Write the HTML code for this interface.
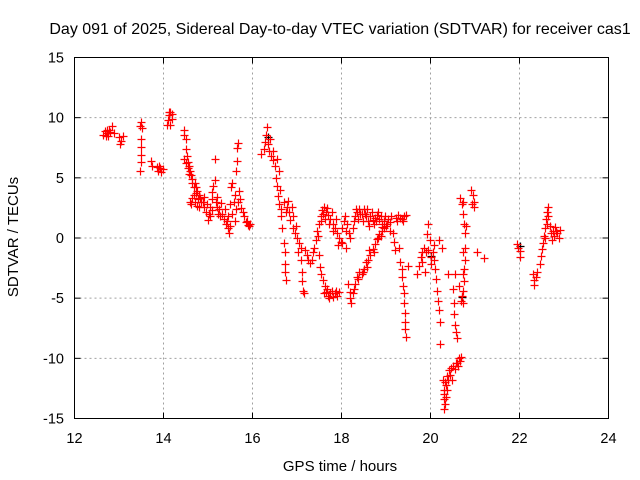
<!DOCTYPE html>
<html><head><meta charset="utf-8"><style>
body{margin:0;background:#fff;}
svg{display:block;font-family:"Liberation Sans",sans-serif;}
</style></head><body>
<svg id="chart" width="640" height="480" viewBox="0 0 640 480" xmlns="http://www.w3.org/2000/svg">
<text x="340" y="34" font-size="16" text-anchor="middle">Day 091 of 2025, Sidereal Day-to-day VTEC variation (SDTVAR) for receiver cas1</text>
<text transform="translate(18,237) rotate(-90)" font-size="15" text-anchor="middle">SDTVAR / TECUs</text>
<text x="340" y="471" font-size="15" text-anchor="middle">GPS time / hours</text>
<g id="grid"></g>
<g id="ticks"></g>
<g id="black-series"></g>
<g id="red-series"></g>
<rect x="74.5" y="57.5" width="534" height="361" fill="none" stroke="#000" stroke-width="1"/>
</svg>
<script>
const xTicks=[12,14,16,18,20,22,24];
const yTicks=[-15,-10,-5,0,5,10,15];
const redPoints=[
[12.65,8.6],[12.68,8.9],[12.72,8.7],[12.75,8.5],[12.78,9.0],[12.8,8.8],[12.85,9.3],[12.88,8.7],[12.7,8.5],[12.74,9.0],
[13.0,8.4],[13.02,7.8],[13.05,8.1],[13.08,8.5],
[13.48,9.3],[13.5,9.6],[13.52,9.1],[13.5,8.2],[13.49,7.6],[13.5,6.9],[13.5,6.3],[13.48,5.6],
[13.72,6.4],[13.75,6.0],[13.85,5.9],[13.88,5.6],[13.92,5.8],[13.95,5.5],[13.98,5.7],[13.9,6.0],
[14.08,9.4],[14.1,9.8],[14.12,10.2],[14.15,10.5],[14.18,10.3],[14.2,9.9],[14.15,9.4],[14.12,10.5],
[14.45,8.6],[14.47,9.0],[14.5,8.2],[14.5,7.4],[14.45,6.6],[14.52,6.8],[14.55,6.3],[14.58,6.0],[14.6,5.6],[14.62,5.2],[14.65,4.9],[14.7,4.6],[14.72,4.2],[14.75,3.9],[14.8,3.6],[14.82,3.3],[14.85,3.0],[14.6,3.0],[14.62,2.8],[14.65,3.3],[14.68,3.6],[14.9,2.6],[14.95,2.2],[15.0,1.5],[15.02,2.0],[15.05,2.6],[15.08,3.2],[15.1,3.8],[15.12,4.3],[15.15,4.8],[15.15,6.6],[15.18,3.0],[15.2,2.6],[15.25,2.4],[15.3,2.9],[15.32,2.0],[15.35,1.6],[15.4,1.2],[15.45,0.8],[15.48,0.4],[15.5,1.0],[15.52,4.2],[15.55,4.6],[15.6,3.6],[15.63,5.6],[15.65,6.4],[15.66,7.5],[15.67,7.9],[15.7,3.9],[15.72,3.2],[15.75,2.5],[15.8,1.8],[15.85,1.3],[15.9,1.1],[15.95,1.2],[15.55,2.0],[15.6,1.4],[15.45,1.8],
[14.5,6.2],[14.55,5.8],[14.58,5.3],[14.63,4.6],[14.68,4.2],[14.73,3.7],[14.78,3.2],[14.7,3.0],[14.75,2.7],[14.8,2.6],[14.88,3.0],[14.92,3.4],[14.98,2.8],[15.05,1.8],[15.1,2.3],[15.2,3.4],[15.22,2.0],[15.28,1.8],[15.38,2.4],[15.42,1.4],[15.5,2.8],[15.58,3.0],[15.62,2.4],[15.68,3.0],[15.78,2.2],[15.88,1.4],[15.92,1.0],
[16.2,7.0],[16.25,7.4],[16.28,8.0],[16.3,8.6],[16.32,9.2],[16.35,7.8],[16.38,7.2],[16.42,6.8],[16.45,6.5],[16.5,6.0],[16.52,5.0],[16.55,4.3],[16.58,3.5],[16.6,2.8],[16.63,2.4],[16.65,1.8],[16.67,0.8],[16.7,-0.4],[16.72,-1.2],[16.73,-2.2],[16.74,-2.8],[16.75,-3.5],[16.78,2.6],[16.8,3.1],[16.82,2.2],[16.85,1.5],[16.9,0.8],[16.95,0.4],[17.0,0.0],[17.05,-0.4],[17.1,-0.8],[17.12,-2.8],[17.12,-3.6],[17.13,-4.4],[17.15,-4.6],[17.18,-1.0],[17.22,-1.4],[17.25,-1.8],[17.3,-2.1],[17.33,-1.8],[17.38,-0.8],[17.42,-0.2],[17.45,0.6],[17.5,1.2],[17.53,1.8],[17.56,2.3],[17.6,2.6],[17.65,2.2],[17.7,1.9],[17.75,1.6],[17.8,1.2],[17.85,0.8],[17.9,0.4],[17.95,0.0],[17.98,-0.3],[17.5,-1.4],[17.52,-2.4],[17.55,-3.0],[17.58,-3.5],[17.62,-4.0],[17.65,-4.5],[17.7,-4.8],[17.75,-4.6],[17.8,-4.9],[17.85,-4.6],[17.9,-4.8],[17.95,-4.5],[18.0,0.8],[18.05,1.4],[18.1,0.6],[18.13,1.2],[18.15,-3.8],[18.18,-4.5],[18.2,-5.0],[18.22,-5.4],[18.25,-4.6],[18.3,-3.8],[18.35,-3.2],[18.4,-2.8],[18.45,-3.0],[18.5,-2.6],[18.55,-2.0],[18.6,-1.8],[18.65,-1.4],[18.7,-0.9],[18.75,-0.5],[18.8,-0.1],[18.85,0.3],[18.9,0.6],[18.95,0.8],[19.0,1.0],[18.3,1.8],[18.35,2.2],[18.4,2.4],[18.45,2.0],[18.5,2.4],[18.55,1.8],[18.6,1.4],[18.65,1.8],[18.7,1.5],[18.75,1.7],[18.8,1.9],[18.85,1.6],[18.9,1.2],[18.95,1.4],[19.05,1.6],[19.1,1.3],[19.15,0.4],[19.18,-0.3],[19.2,-1.0],[19.22,1.7],[19.28,1.9],[19.35,1.6],[19.4,1.8],[19.45,1.9],[19.3,-0.8],[19.32,-2.0],[19.35,-2.6],[19.37,-3.2],[19.38,-4.0],[19.4,-4.6],[19.4,-5.4],[19.42,-6.2],[19.42,-7.0],[19.43,-7.6],[19.45,-8.2],[19.5,-2.3],
[16.4,8.2],[16.45,7.2],[16.55,6.6],[16.6,5.6],[16.62,4.0],[16.7,3.0],[16.75,2.2],[16.88,2.6],[16.92,1.8],[16.98,1.0],[17.02,-1.2],[17.08,-1.8],[17.35,-1.2],[17.48,0.2],[17.55,1.4],[17.58,2.0],[17.62,1.6],[17.68,2.5],[17.72,1.2],[17.78,2.2],[17.82,0.6],[17.88,1.6],[17.92,-0.6],[17.6,-4.6],[17.68,-4.2],[17.72,-5.0],[17.78,-4.4],[17.88,-4.4],[18.02,-0.4],[18.08,1.8],[18.1,-0.8],[18.16,0.4],[18.2,0.0],[18.25,0.8],[18.28,1.4],[18.32,2.4],[18.38,1.6],[18.42,2.0],[18.48,1.4],[18.52,2.0],[18.58,2.4],[18.62,1.0],[18.68,2.2],[18.72,1.2],[18.78,1.4],[18.82,2.2],[18.88,1.8],[18.92,0.9],[18.98,1.8],[19.02,1.2],[19.08,0.6],[19.12,1.8],[19.25,1.4],[19.32,1.7],[19.38,1.4],[18.28,-4.2],[18.38,-3.4],[18.48,-2.8],[18.58,-2.4],[18.62,-1.0],[18.72,-1.2],[18.82,0.0],[18.88,0.2],
[19.7,-3.0],[19.75,-2.3],[19.78,-1.6],[19.82,-1.2],[19.85,-0.8],[19.88,-2.8],[19.9,-1.2],[19.92,0.3],[19.95,1.2],[19.98,-0.2],[20.0,-1.6],[20.05,-1.2],[20.08,-1.8],[20.1,-2.6],[20.12,-3.4],[20.15,-4.4],[20.17,-5.2],[20.2,-6.0],[20.22,-7.0],[20.22,-8.8],[20.2,-0.2],[20.25,-0.8],[20.28,-11.8],[20.3,-12.6],[20.31,-13.4],[20.3,-14.2],[20.33,-13.8],[20.35,-12.2],[20.38,-11.5],[20.4,-3.0],[20.42,-11.0],[20.45,-10.8],[20.48,-11.8],[20.5,-4.2],[20.52,-5.4],[20.53,-6.3],[20.55,-7.2],[20.58,-7.8],[20.6,-8.3],[20.6,-10.4],[20.63,-10.0],[20.66,-10.2],[20.68,-9.9],[20.7,-4.8],[20.72,-4.4],[20.75,-3.6],[20.76,-2.6],[20.77,-1.8],[20.78,-0.8],[20.78,0.4],[20.75,1.2],[20.72,2.0],[20.7,2.8],[20.67,3.3],[20.92,4.0],[20.95,3.6],[20.97,3.0],[20.98,2.6],[21.05,-1.2],[21.2,-1.7],
[19.8,-2.0],[19.95,-1.0],[20.02,-2.2],[20.08,-0.6],[20.3,-13.0],[20.32,-12.0],[20.35,-13.2],[20.38,-12.6],[20.4,-11.8],[20.44,-11.4],[20.5,-10.6],[20.55,-10.9],[20.58,-10.4],[20.62,-10.6],[20.56,-3.0],[20.65,-4.0],[20.68,-5.2],[20.74,-5.4],[20.72,-3.0],[20.74,-1.2],[20.8,1.0],[20.72,3.0],[20.94,2.8],
[21.95,-0.5],[21.97,-0.8],[22.0,-1.1],[22.0,-1.6],[22.3,-3.0],[22.32,-3.5],[22.33,-3.9],[22.4,-2.8],[22.45,-2.2],[22.48,-1.5],[22.52,-0.4],[22.55,0.2],[22.58,0.8],[22.6,1.6],[22.62,2.2],[22.63,2.6],[22.65,1.8],[22.68,1.0],[22.7,0.4],[22.72,-0.2],[22.75,0.6],[22.8,0.9],[22.85,0.4],[22.88,0.0],[22.9,0.7],[22.38,-3.2],[22.5,-0.9],[22.58,0.0],[22.62,1.2],[22.78,0.2],[22.82,0.6]
];
const blackPoints=[[20.0,-1.5],[20.7,-4.9],[16.35,8.4],[22.0,-0.7]];
const X0=74.5,X1=608.5,Y0=418.5,Y1=57.5;
const xS=t=>X0+(t-12)/(24-12)*(X1-X0);
const yS=v=>Y0-(v+15)/30*(Y0-Y1);
const NS="http://www.w3.org/2000/svg";
const grid=document.getElementById('grid'),ticks=document.getElementById('ticks');
function mk(tag,parent){const e=document.createElementNS(NS,tag);parent.appendChild(e);return e;}
xTicks.forEach(t=>{
  const x=xS(t);
  if(t>12&&t<24){const g=mk('line',grid);g.setAttribute('x1',x);g.setAttribute('x2',x);g.setAttribute('y1',Y1);g.setAttribute('y2',Y0);g.setAttribute('stroke','#a0a0a0');g.setAttribute('stroke-dasharray','2,3');
  
  }
  [[Y0,Y0-6],[Y1,Y1+6]].forEach(p=>{const l=mk('line',ticks);l.setAttribute('x1',x);l.setAttribute('x2',x);l.setAttribute('y1',p[0]);l.setAttribute('y2',p[1]);l.setAttribute('stroke','#000');
  
  });
  const tx=mk('text',ticks);tx.setAttribute('x',x);tx.setAttribute('y',443);tx.setAttribute('font-size','14.5');tx.setAttribute('text-anchor','middle');tx.textContent=t;
  
  
});
yTicks.forEach(v=>{
  const y=yS(v);
  if(v>-15&&v<15){const g=mk('line',grid);g.setAttribute('x1',X0);g.setAttribute('x2',X1);g.setAttribute('y1',y);g.setAttribute('y2',y);g.setAttribute('stroke','#a0a0a0');g.setAttribute('stroke-dasharray','2,3');
  
  }
  [[X0,X0+6],[X1,X1-6]].forEach(p=>{const l=mk('line',ticks);l.setAttribute('y1',y);l.setAttribute('y2',y);l.setAttribute('x1',p[0]);l.setAttribute('x2',p[1]);l.setAttribute('stroke','#000');
  
  });
  const tx=mk('text',ticks);tx.setAttribute('x',64);tx.setAttribute('y',y+5);tx.setAttribute('font-size','14.5');tx.setAttribute('text-anchor','end');tx.textContent=v;
  
  
});
function drawPts(pts,parent,color,name){
  pts.forEach(p=>{
    const x=Math.round(xS(p[0]))+0.5,y=Math.round(yS(p[1]))+0.5;
    const m=mk('path',parent);
    m.setAttribute('d',`M${x-4},${y}H${x+4}M${x},${y-4}V${y+4}`);
    m.setAttribute('stroke',color);m.setAttribute('stroke-width','1.2');m.setAttribute('fill','none');
    
    
  });
}
drawPts(blackPoints,document.getElementById('black-series'),'#000','reference-point');
drawPts(redPoints,document.getElementById('red-series'),'#ff0000','sdtvar-point');
</script>
</body></html>
